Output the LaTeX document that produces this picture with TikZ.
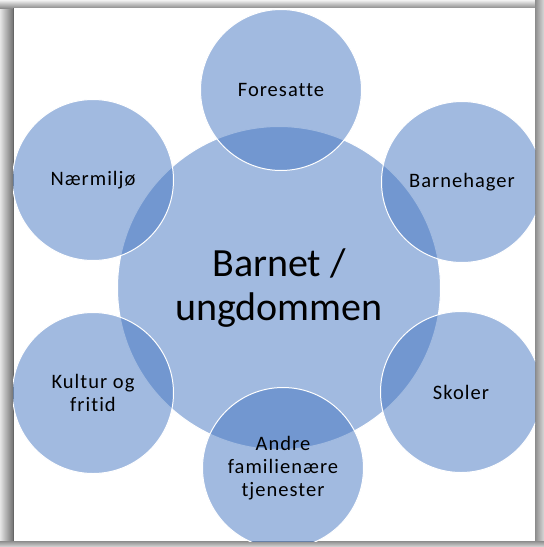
\documentclass[tikz,border=0pt]{standalone}
\usepackage{fontspec}
\setmainfont{Carlito}[Ligatures=CommonOff]
\newfontfamily\satfont{Carlito}[Ligatures=CommonOff, LetterSpace=5]
\definecolor{circ}{RGB}{68,118,194}
\begin{document}
\begin{tikzpicture}[x=1pt,y=-1pt,
  blob/.style={circle, inner sep=0pt, fill=circ, fill opacity=0.5, draw=white, draw opacity=1, line width=1pt, text opacity=1, text=black, align=center},
  sat/.style={blob, minimum size=161pt, font=\satfont\fontsize{20.5}{23}\selectfont},
  hub/.style={blob, minimum size=323pt, font=\fontsize{40}{44}\selectfont},
]
\useasboundingbox (0,0) rectangle (544,547);
% frame
\fill[black!18] (0,0) rectangle (544,547);
\shade[left color=black!10, right color=black!55] (0,0) rectangle (13,547);
\shade[top color=black!5, bottom color=black!45] (0,0) rectangle (544,8);
\shade[left color=black!45, right color=black!15] (535,0) rectangle (544,547);
\shade[top color=black!45, bottom color=black!15] (0,541) rectangle (544,547);
\fill[white] (13,8) rectangle (535,541);
\draw[black!60, line width=0.8pt] (13,8) -- (13,541);
\begin{scope}
\clip (13,8) rectangle (535,541);
\node[hub] (hub) at (279,288) {Barnet /\\ungdommen};
\node[sat] (fore) at (281,90) {Foresatte};
\node[sat] (barn) at (462,182) {Barnehager};
\node[sat] (skol) at (461,392) {Skoler};
\node[sat] (andr) at (283,468) {Andre\\familienære\\tjenester};
\node[sat] (kult) at (93,393) {Kultur og\\fritid};
\node[sat] (naer) at (93,180) {Nærmiljø};
\end{scope}
\end{tikzpicture}
\end{document}
